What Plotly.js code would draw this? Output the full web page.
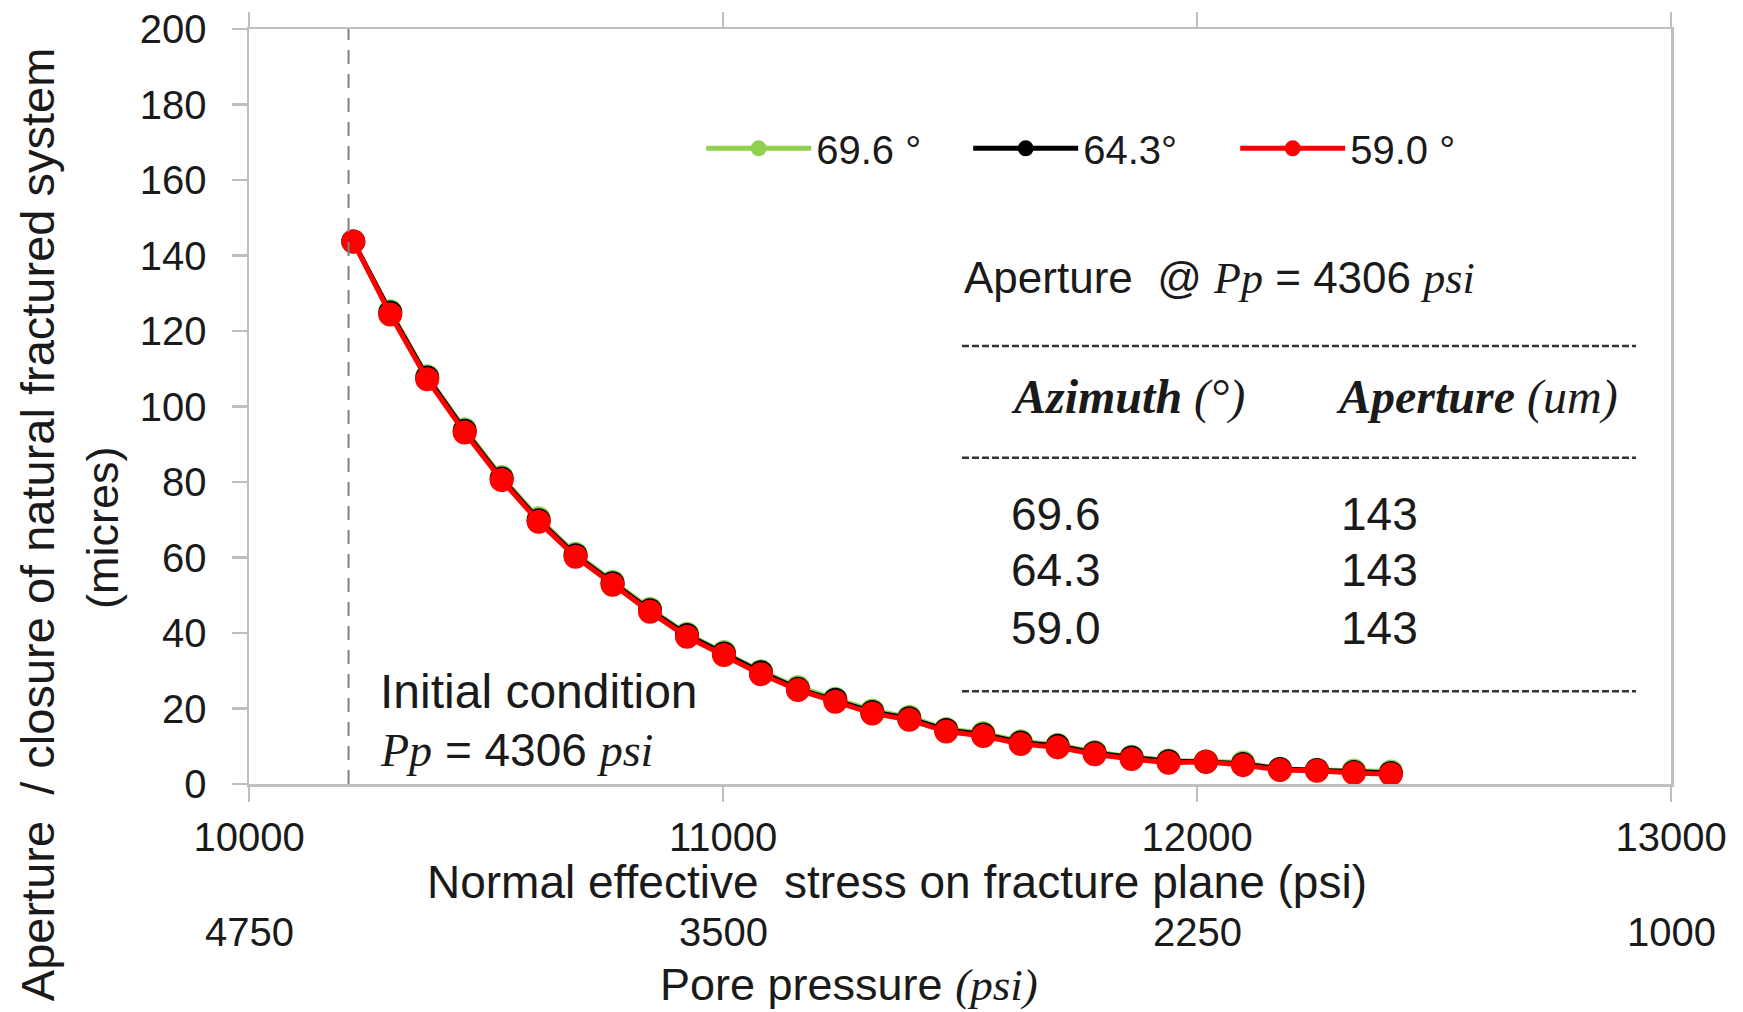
<!DOCTYPE html>
<html>
<head>
<meta charset="utf-8">
<script src="https://cdn.plot.ly/plotly-3.0.1.min.js"></script>
<style>html,body{margin:0;padding:0;background:#fff;}#chart{width:1743px;height:1012px;}</style>
</head>
<body>
<div id="chart"></div>
<script>
// ---- data ----
const stress = [10220,10298,10376,10455,10533,10611,10689,10767,10846,10924,11002,11080,11158,11237,11315,11393,11471,11549,11628,11706,11784,11862,11940,12019,12097,12175,12253,12331,12409];
const aperture696 = [143.7,125.2,108.0,94.0,81.3,70.4,61.0,53.6,46.4,39.8,35.0,29.9,25.7,22.6,19.5,17.8,14.6,13.5,11.3,10.4,8.5,7.2,6.2,6.0,5.7,4.0,3.8,3.6,3.3];
const aperture643 = [143.7,124.9,107.7,93.6,80.9,69.9,60.6,53.2,46.0,39.5,34.6,29.6,25.2,22.3,19.1,17.4,14.3,13.1,11.0,10.1,8.2,7.0,6.0,5.9,5.3,4.0,3.7,3.2,2.9];
const aperture590 = [143.7,124.4,107.2,93.1,80.5,69.5,60.2,52.8,45.6,39.0,34.2,29.1,24.9,21.8,18.7,17.0,13.9,12.7,10.6,9.7,7.9,6.6,5.6,5.9,5.0,3.7,3.5,2.9,2.6];
const seriesNames = ["69.6 °", "64.3°", "59.0 °"];
const stressTicks = [10000, 11000, 12000, 13000];
const poreTickLabels = ["4750", "3500", "2250", "1000"];
const initialStress = 10210;
const tableAzimuth = ["69.6", "64.3", "59.0"];
const tableAperture = ["143", "143", "143"];

const SANS = "Liberation Sans, Arial, sans-serif";
const SERIF = "Liberation Serif, Times New Roman, serif";
const TXT = "#1a1a1a";
const AX = "#bfbfbf";

function trace(y, name, color) {
  return {
    x: stress, y: y, name: name, type: "scatter", mode: "lines+markers",
    line: {color: color, width: 5},
    marker: {color: color, size: 24, line: {width: 0}}
  };
}
const data = [
  trace(aperture696, seriesNames[0], "#92d050"),
  trace(aperture643, seriesNames[1], "#000000"),
  trace(aperture590, seriesNames[2], "#ff0000")
];

const annotations = [];
function ann(text, x, y, opts) {
  annotations.push(Object.assign({
    text: text, x: x, y: y, xref: "paper", yref: "paper",
    showarrow: false, xanchor: "left", yanchor: "middle",
    font: {family: SANS, size: 40, color: TXT}
  }, opts || {}));
}
// Secondary tick row (pore pressure)
stressTicks.forEach((v, i) => {
  ann(poreTickLabels[i], v, -0.196, {xref: "x", xanchor: "center"});
});
// Axis titles
ann("Normal effective  stress on fracture plane (psi)", 0.4557, -0.1295, {xanchor: "center", font: {family: SANS, size: 46, color: TXT}});
ann("Pore pressure <span style=\"font-family:" + SERIF + "\"><i>(psi)</i></span>", 0.422, -0.266, {xanchor: "center", font: {family: SANS, size: 45, color: TXT}});
ann("Aperture  / closure of natural fractured system", -0.149, 0.343, {xanchor: "center", textangle: -90, font: {family: SANS, size: 47, color: TXT}});
ann("(micres)", -0.1034, 0.339, {xanchor: "center", textangle: -90, font: {family: SANS, size: 45, color: TXT}});
// Table
const ppTxt = "<span style=\"font-family:" + SERIF + "\"><i>Pp</i></span> = 4306 <span style=\"font-family:" + SERIF + "\"><i>psi</i></span>";
ann("Aperture  @ " + ppTxt, 0.5014, 0.670, {font: {family: SANS, size: 44, color: TXT}});
ann("<b><i>Azimuth</i></b> <i>(°)</i>", 0.5345, 0.5126, {font: {family: SERIF, size: 48, color: TXT}});
ann("<b><i>Aperture</i></b> <i>(um)</i>", 0.763, 0.5126, {font: {family: SERIF, size: 48, color: TXT}});
const rowY = [0.3576, 0.2834, 0.2066];
tableAzimuth.forEach((a, i) => {
  ann(a, 0.5345, rowY[i], {font: {family: SANS, size: 46, color: TXT}});
  ann(tableAperture[i], 0.7665, rowY[i], {font: {family: SANS, size: 46, color: TXT}});
});
ann("Initial condition", 0.0907, 0.123, {font: {family: SANS, size: 48, color: TXT}});
ann(ppTxt, 0.0907, 0.045, {font: {family: SANS, size: 46, color: TXT}});

const shapes = [
  {type: "line", xref: "x", yref: "y", x0: initialStress, x1: initialStress, y0: 0, y1: 200.5,
   line: {color: "#808080", width: 2, dash: "14px,10px"}}
];
[0.580, 0.432, 0.123].forEach(yy => {
  shapes.push({type: "line", xref: "paper", yref: "paper", x0: 0.5014, x1: 0.9754, y0: yy, y1: yy,
    line: {color: "#333333", width: 2.5, dash: "7px,3px"}});
});

const layout = {
  width: 1743, height: 1012,
  margin: {l: 249, r: 72, t: 29, b: 228},
  paper_bgcolor: "#ffffff", plot_bgcolor: "#ffffff",
  font: {family: SANS, size: 40, color: TXT},
  showlegend: true,
  legend: {
    orientation: "h", x: 0.318, y: 0.842, xanchor: "left", yanchor: "middle",
    font: {family: SANS, size: 40, color: TXT}, bgcolor: "rgba(0,0,0,0)",
    entrywidth: 147, entrywidthmode: "pixels", itemwidth: 105
  },
  xaxis: {
    range: [10000, 13000], tickvals: stressTicks, ticktext: stressTicks.map(String),
    showgrid: false, zeroline: false, showline: true, linecolor: AX, linewidth: 2.5,
    mirror: "ticks", ticks: "outside", ticklen: 15, tickwidth: 2.5, tickcolor: AX,
    tickfont: {family: SANS, size: 40, color: TXT}, ticklabelstandoff: 1
  },
  yaxis: {
    range: [0, 200], dtick: 20, tick0: 0,
    showgrid: false, zeroline: false, showline: true, linecolor: AX, linewidth: 2.5,
    mirror: true, ticks: "outside", ticklen: 15, tickwidth: 2.5, tickcolor: AX,
    tickfont: {family: SANS, size: 40, color: TXT}, ticklabelstandoff: 17
  },
  annotations: annotations,
  shapes: shapes
};

Plotly.newPlot("chart", data, layout, {staticPlot: true, displayModeBar: false});
</script>
</body>
</html>
